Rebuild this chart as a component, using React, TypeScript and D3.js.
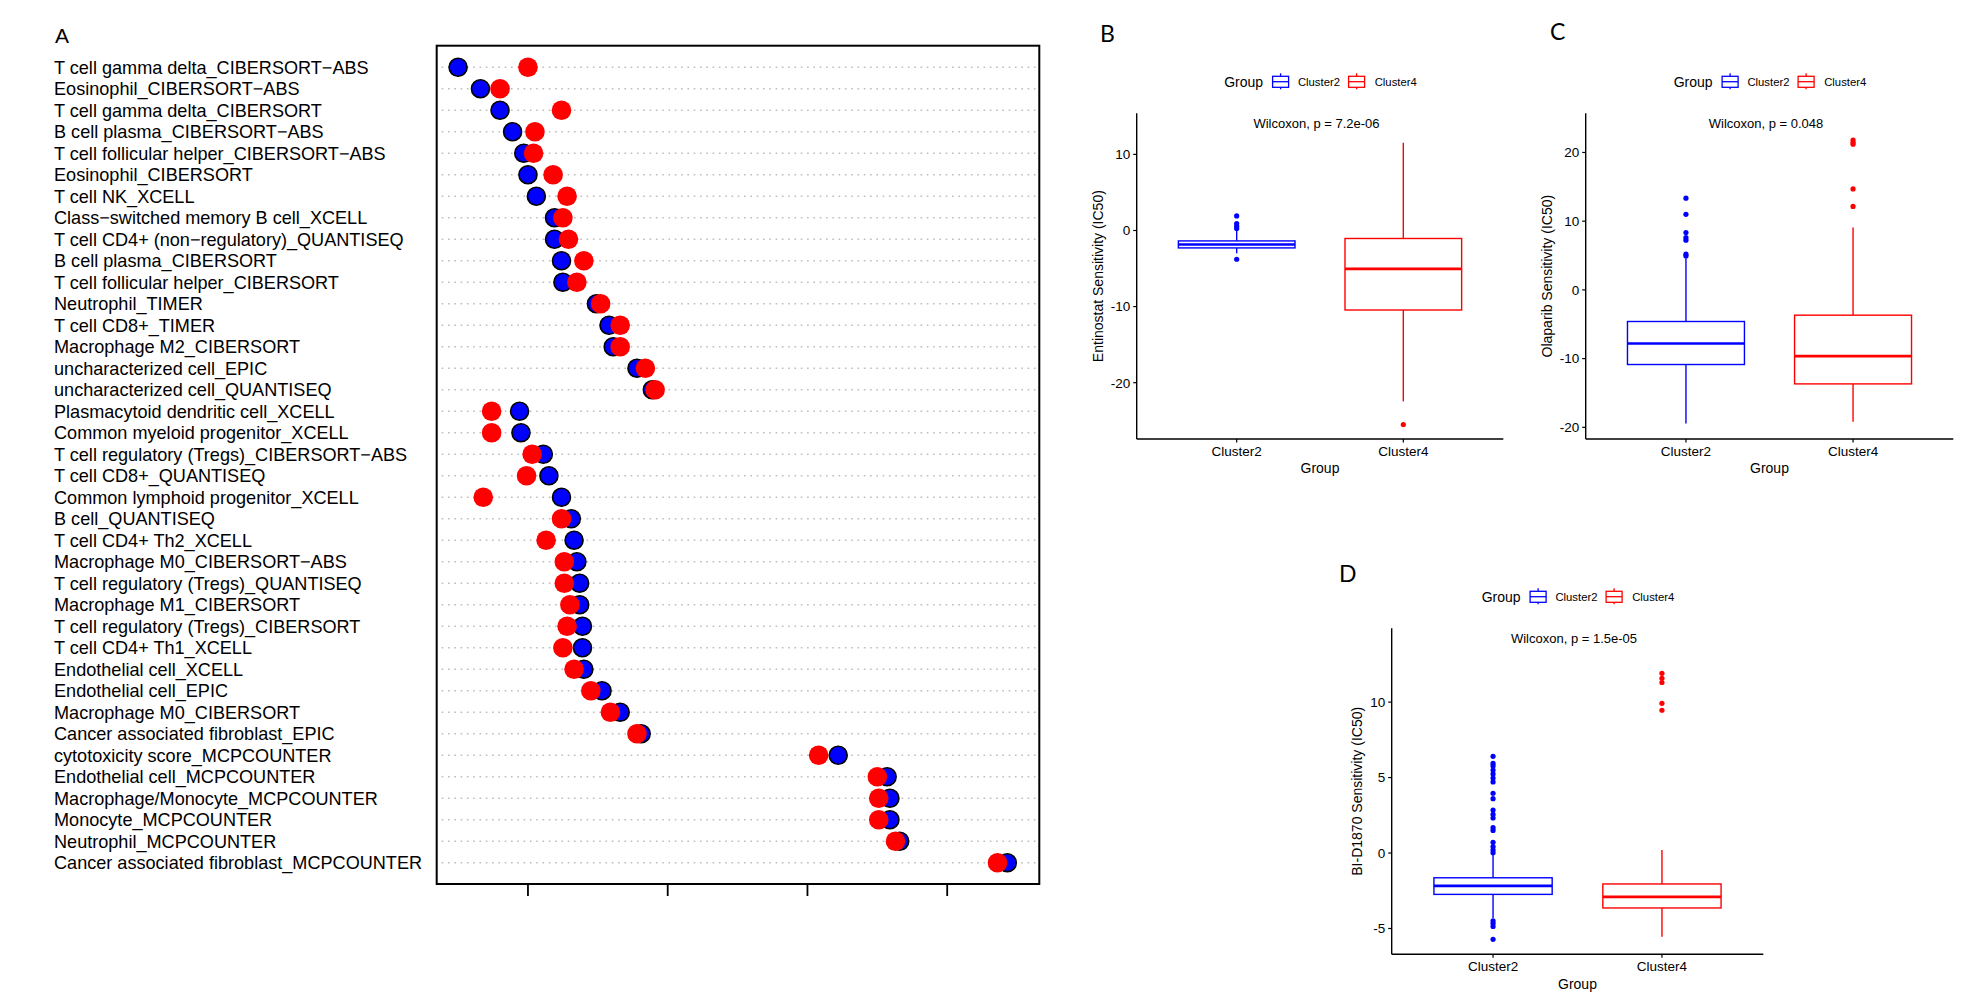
import React from 'react';
import * as d3 from 'd3';

// ---- panel A: mean scores per cell type ----
const cellTypes = [
  'T cell gamma delta_CIBERSORT\u2212ABS',
  'Eosinophil_CIBERSORT\u2212ABS',
  'T cell gamma delta_CIBERSORT',
  'B cell plasma_CIBERSORT\u2212ABS',
  'T cell follicular helper_CIBERSORT\u2212ABS',
  'Eosinophil_CIBERSORT',
  'T cell NK_XCELL',
  'Class\u2212switched memory B cell_XCELL',
  'T cell CD4+ (non\u2212regulatory)_QUANTISEQ',
  'B cell plasma_CIBERSORT',
  'T cell follicular helper_CIBERSORT',
  'Neutrophil_TIMER',
  'T cell CD8+_TIMER',
  'Macrophage M2_CIBERSORT',
  'uncharacterized cell_EPIC',
  'uncharacterized cell_QUANTISEQ',
  'Plasmacytoid dendritic cell_XCELL',
  'Common myeloid progenitor_XCELL',
  'T cell regulatory (Tregs)_CIBERSORT\u2212ABS',
  'T cell CD8+_QUANTISEQ',
  'Common lymphoid progenitor_XCELL',
  'B cell_QUANTISEQ',
  'T cell CD4+ Th2_XCELL',
  'Macrophage M0_CIBERSORT\u2212ABS',
  'T cell regulatory (Tregs)_QUANTISEQ',
  'Macrophage M1_CIBERSORT',
  'T cell regulatory (Tregs)_CIBERSORT',
  'T cell CD4+ Th1_XCELL',
  'Endothelial cell_XCELL',
  'Endothelial cell_EPIC',
  'Macrophage M0_CIBERSORT',
  'Cancer associated fibroblast_EPIC',
  'cytotoxicity score_MCPCOUNTER',
  'Endothelial cell_MCPCOUNTER',
  'Macrophage/Monocyte_MCPCOUNTER',
  'Monocyte_MCPCOUNTER',
  'Neutrophil_MCPCOUNTER',
  'Cancer associated fibroblast_MCPCOUNTER',
];

const cluster2Score = [
  0.50, 0.66, 0.80, 0.89, 0.97, 1.00, 1.06, 1.19, 1.19, 1.24,
  1.25, 1.49, 1.58, 1.61, 1.78, 1.89, 0.94, 0.95, 1.11, 1.15,
  1.24, 1.31, 1.33, 1.35, 1.37, 1.37, 1.39, 1.39, 1.40, 1.53,
  1.66, 1.81, 3.22, 3.57, 3.59, 3.59, 3.66, 4.43,
];

const cluster4Score = [
  1.00, 0.80, 1.24, 1.05, 1.04, 1.18, 1.28, 1.25, 1.29, 1.40,
  1.35, 1.52, 1.66, 1.66, 1.84, 1.91, 0.74, 0.74, 1.03, 0.99,
  0.68, 1.24, 1.13, 1.26, 1.26, 1.30, 1.28, 1.25, 1.33, 1.45,
  1.59, 1.78, 3.08, 3.50, 3.51, 3.51, 3.63, 4.36,
];

const scoreTicks = [1, 2, 3, 4];

// ---- panels B-D: drug sensitivity boxplots ----
const groups = ['Cluster2', 'Cluster4'];

// [lower whisker, Q1, median, Q3, upper whisker]
const entinostatBox = [
  [-3.0, -2.29, -1.84, -1.37, 0.0],
  [-22.46, -10.45, -5.05, -1.05, 11.53],
];
const entinostatOutliers = [[1.92, 0.92, 0.57, 0.26, -3.78], [-25.5]];
const entinostatTicks = [-20, -10, 0, 10];

const olaparibBox = [
  [-19.45, -10.86, -7.8, -4.6, 4.6],
  [-19.2, -13.68, -9.65, -3.68, 9.08],
];
const olaparibOutliers = [
  [13.35, 11.0, 8.35, 7.6, 7.23, 5.2, 4.95],
  [21.8, 21.45, 21.2, 14.7, 12.14],
];
const olaparibTicks = [-20, -10, 0, 10, 20];

const bid1870Box = [
  [-4.3, -2.74, -2.17, -1.64, 0.0],
  [-5.55, -3.64, -2.9, -2.05, 0.2],
];
const bid1870Outliers = [
  [6.41, 5.94, 5.77, 5.5, 5.24, 4.97, 4.71, 3.96, 3.6, 2.85, 2.56, 2.32, 1.68, 1.5,
    0.71, 0.42, 0.2, 0.02, -4.49, -4.66, -4.86, -5.72],
  [11.91, 11.58, 11.3, 9.92, 9.46],
];
const bid1870Ticks = [-5, 0, 5, 10];

const colors = ['#0000FF', '#FF0000'];
const font = '"Liberation Sans", Arial, Helvetica, sans-serif';

function DotPanel() {
  const left = 436.7, right = 1039.3, top = 45.7, bottom = 884;
  const x = d3.scaleLinear().domain([0.347, 4.659]).range([left, right]);
  const y = d3.scalePoint<string>().domain(cellTypes).range([67.3, 862.8]);

  return (
    <g fontFamily={font}>
      <text x={55} y={43} fontSize={21}>A</text>
      {cellTypes.map((c) => (
        <g key={c}>
          <text x={54} y={y(c)} dy="0.36em" fontSize={18.1}>{c}</text>
          <line x1={left + 5} x2={right - 1} y1={y(c)} y2={y(c)}
            stroke="#bdbdbd" strokeWidth={1.5} strokeDasharray="1.6 4.7" />
        </g>
      ))}
      <rect x={left} y={top} width={right - left} height={bottom - top}
        fill="none" stroke="#000" strokeWidth={2} />
      {scoreTicks.map((t) => (
        <line key={t} x1={x(t)} x2={x(t)} y1={bottom} y2={bottom + 12}
          stroke="#000" strokeWidth={1.8} />
      ))}
      {cellTypes.map((c, i) => (
        <circle key={'b' + i} cx={x(cluster2Score[i])} cy={y(c)} r={9}
          fill={colors[0]} stroke="#000" strokeWidth={1.6} />
      ))}
      {cellTypes.map((c, i) => (
        <circle key={'r' + i} cx={x(cluster4Score[i])} cy={y(c)} r={9.8}
          fill={colors[1]} />
      ))}
    </g>
  );
}

interface BoxPanelProps {
  left: number; right: number; top: number; bottom: number;
  domain: [number, number];
  ticks: number[];
  box: number[][];
  outliers: number[][];
  yTitle: string;
  pText: string;
  titleGap: number;
  label: string;
  labelX: number;
  labelY: number;
}

function LegendKey({ x, y, color }: { x: number; y: number; color: string }) {
  // key centred vertically at y, 16px wide box
  return (
    <g stroke={color} strokeWidth={1.3} fill="#fff">
      <line x1={x + 8} x2={x + 8} y1={y - 8.4} y2={y + 7.6} />
      <rect x={x} y={y - 5.4} width={16} height={11} />
      <line x1={x} x2={x + 16} y1={y} y2={y} />
    </g>
  );
}

function BoxPanel(p: BoxPanelProps) {
  const x = d3.scalePoint<string>().domain(groups).range([p.left, p.right]).padding(0.6);
  const y = d3.scaleLinear().domain(p.domain).range([p.bottom, p.top]);
  const bw = x.step() * 0.7;
  const cx = (p.left + p.right) / 2;
  const lx = cx - 95.8;
  const ly = p.top - 31.6;

  return (
    <g fontFamily={font}>
      <text x={p.labelX} y={p.labelY} fontSize={23} fontFamily='Lato, "Open Sans", sans-serif'>{p.label}</text>

      {/* legend */}
      <text x={lx} y={ly} dy="0.35em" fontSize={14}>Group</text>
      <LegendKey x={lx + 48.4} y={ly} color={colors[0]} />
      <text x={lx + 73.7} y={ly} dy="0.35em" fontSize={11.3}>{groups[0]}</text>
      <LegendKey x={lx + 124.4} y={ly} color={colors[1]} />
      <text x={lx + 150.5} y={ly} dy="0.35em" fontSize={11.3}>{groups[1]}</text>

      {/* boxes */}
      {groups.map((g, i) => {
        const [lo, q1, med, q3, hi] = p.box[i];
        const gx = x(g)!;
        return (
          <g key={g} stroke={colors[i]} fill="#fff">
            <line x1={gx} x2={gx} y1={y(hi)} y2={y(q3)} strokeWidth={1.4} />
            <line x1={gx} x2={gx} y1={y(q1)} y2={y(lo)} strokeWidth={1.4} />
            <rect x={gx - bw / 2} y={y(q3)} width={bw} height={y(q1) - y(q3)} strokeWidth={1.4} />
            <line x1={gx - bw / 2} x2={gx + bw / 2} y1={y(med)} y2={y(med)} strokeWidth={2.7} />
            {p.outliers[i].map((v, k) => (
              <circle key={k} cx={gx} cy={y(v)} r={2.6} fill={colors[i]} stroke="none" />
            ))}
          </g>
        );
      })}

      <text x={cx - 3.5} y={p.top + 10} dy="0.35em" fontSize={13} textAnchor="middle">{p.pText}</text>

      {/* axes */}
      <line x1={p.left} x2={p.left} y1={p.top} y2={p.bottom} stroke="#000" strokeWidth={1.4} />
      <line x1={p.left} x2={p.right} y1={p.bottom} y2={p.bottom} stroke="#000" strokeWidth={1.4} />
      {p.ticks.map((t) => (
        <g key={t}>
          <line x1={p.left - 3.5} x2={p.left} y1={y(t)} y2={y(t)} stroke="#000" strokeWidth={1.2} />
          <text x={p.left - 6.5} y={y(t)} dy="0.36em" fontSize={13.5} textAnchor="end">{t}</text>
        </g>
      ))}
      {groups.map((g) => (
        <g key={g}>
          <line x1={x(g)} x2={x(g)} y1={p.bottom} y2={p.bottom + 3.5} stroke="#000" strokeWidth={1.2} />
          <text x={x(g)} y={p.bottom + 12.3} dy="0.35em" fontSize={13.5} textAnchor="middle">{g}</text>
        </g>
      ))}
      <text x={cx} y={p.bottom + 29.3} dy="0.35em" fontSize={14} textAnchor="middle">Group</text>
      <text transform={`translate(${p.left - p.titleGap},${(p.top + p.bottom) / 2}) rotate(-90)`}
        dy="0.35em" fontSize={14} textAnchor="middle">{p.yTitle}</text>
    </g>
  );
}

export default function App() {
  return (
    <svg width={1961} height={999} style={{ position: 'absolute', left: 0, top: 0, background: '#fff' }}>
      <rect width={1961} height={999} fill="#fff" />
      <DotPanel />
      <BoxPanel left={1136.7} right={1503.3} top={113.3} bottom={439}
        domain={[-27.4, 15.4]} ticks={entinostatTicks}
        box={entinostatBox} outliers={entinostatOutliers}
        yTitle="Entinostat Sensitivity (IC50)" pText="Wilcoxon, p = 7.2e-06"
        titleGap={38.4} label="B" labelX={1100} labelY={41.5} />
      <BoxPanel left={1585.7} right={1953.3} top={113.3} bottom={439}
        domain={[-21.7, 25.7]} ticks={olaparibTicks}
        box={olaparibBox} outliers={olaparibOutliers}
        yTitle="Olaparib Sensitivity (IC50)" pText="Wilcoxon, p = 0.048"
        titleGap={38.4} label="C" labelX={1550} labelY={40} />
      <BoxPanel left={1391.7} right={1763.3} top={628.3} bottom={954.3}
        domain={[-6.71, 14.89]} ticks={bid1870Ticks}
        box={bid1870Box} outliers={bid1870Outliers}
        yTitle="BI-D1870 Sensitivity (IC50)" pText="Wilcoxon, p = 1.5e-05"
        titleGap={34.4} label="D" labelX={1339} labelY={581.7} />
    </svg>
  );
}
